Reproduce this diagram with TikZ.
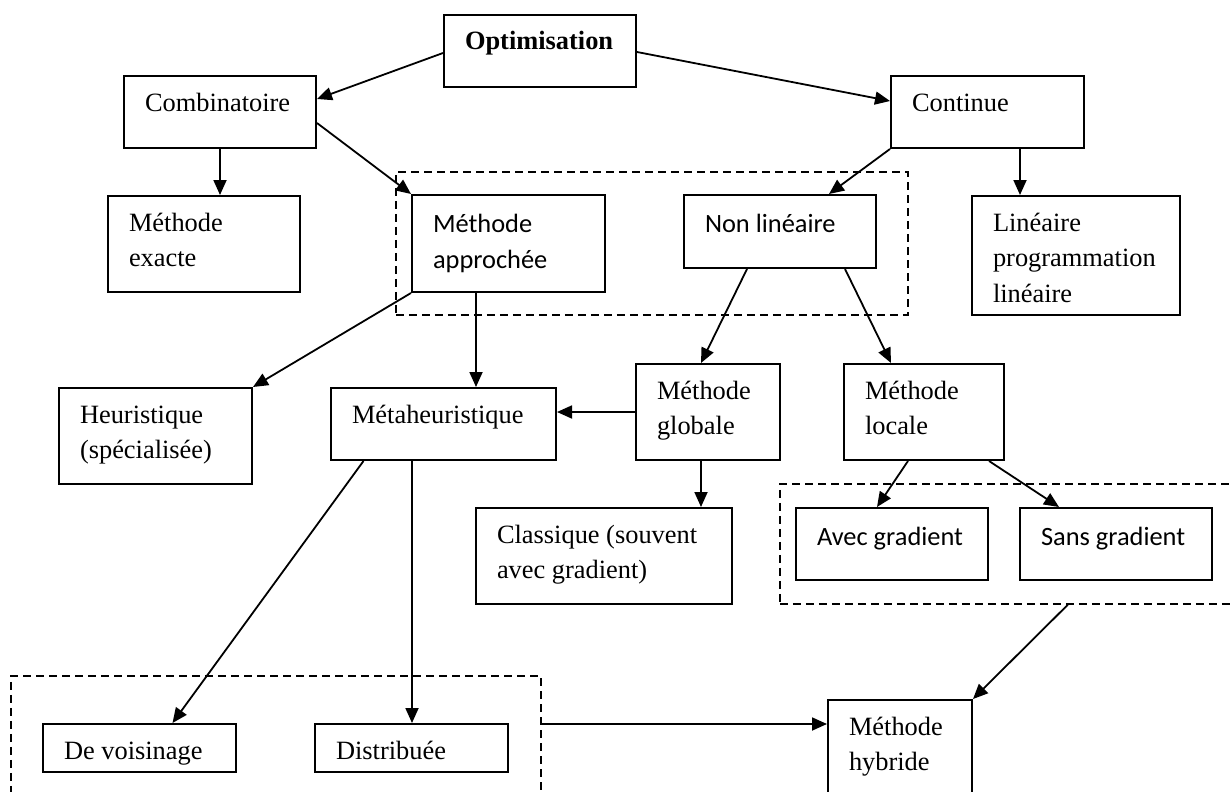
\documentclass[tikz,border=0pt]{standalone}
\usepackage{fontspec}
\setmainfont{Liberation Serif}
\newfontfamily\calibri{Carlito}
\usetikzlibrary{arrows.meta}

\newcommand{\boxfont}{\fontsize{26.4}{35.5}\selectfont}
\newcommand{\boxtop}{35pt}

\tikzset{
  box/.style 2 args={draw, line width=2pt, inner sep=0pt, anchor=north west,
    font=\boxfont,
    execute at begin node={\begin{minipage}[t][#2][t]{#1}\raggedright\leftskip=21pt\rule{0pt}{\boxtop}},
    execute at end node={\end{minipage}}},
  cbox/.style 2 args={box={#1}{#2}, font=\boxfont\calibri\renewcommand{\boxtop}{37.5pt}},
  group/.style={draw, dash pattern=on 8pt off 5pt, line width=1.7pt, inner sep=0pt, anchor=north west},
  link/.style={->, line width=1.8pt}
}

\begin{document}
\begin{tikzpicture}[x=1pt,y=-1pt,>={Triangle[length=15pt,width=13pt]}]
  \useasboundingbox (0,0) rectangle (1232,792);
  \clip (0,0) rectangle (1232,792);
  % dashed groups
  \node[group, minimum width=512pt, minimum height=143pt] (g1) at (395,171) {};
  \node[group, minimum width=470pt, minimum height=120pt] (g2) at (779,483) {};
  \node[group, minimum width=530pt, minimum height=130pt] (g3) at (10,675) {};
  % boxes
  \node[box={192pt}{72pt}] (opt) at (443,14) {\textbf{Optimisation}};
  \node[box={192pt}{72pt}] (comb) at (123,75) {Combinatoire};
  \node[box={193pt}{72pt}] (cont) at (890,75) {Continue};
  \node[box={192pt}{96pt}] (exact) at (107,195) {Méthode\\exacte};
  \node[cbox={193pt}{97pt}] (appr) at (411,194) {Méthode\\approchée};
  \node[cbox={192pt}{73pt}] (nonlin) at (683,194) {Non linéaire};
  \node[box={208pt}{119pt}] (lin) at (971,195) {Linéaire\\programmation\\linéaire};
  \node[box={193pt}{96pt}] (heur) at (58,387) {Heuristique\\(spécialisée)};
  \node[box={225pt}{72pt}] (meta) at (330,387) {Métaheuristique};
  \node[box={144pt}{96pt}] (glob) at (635,363) {Méthode\\globale};
  \node[box={160pt}{96pt}] (loc) at (843,363) {Méthode\\locale};
  \node[box={256pt}{96pt}] (class) at (475,507) {Classique (souvent\\avec gradient)};
  \node[cbox={192pt}{72pt}] (avec) at (795,507) {Avec gradient};
  \node[cbox={192pt}{72pt}] (sans) at (1019,507) {Sans gradient};
  \node[box={193pt}{48pt}] (voisin) at (42,723) {De voisinage};
  \node[box={193pt}{48pt}] (distr) at (314,723) {Distribuée};
  \node[box={144pt}{120pt}] (hybr) at (827,699) {Méthode\\hybride};
  % connector ends
  \coordinate (contlin) at ([xshift=32.5pt]cont.south);
  \coordinate (apprmeta) at ([xshift=-32.5pt]appr.south);
  \coordinate (globclass) at ([xshift=-7pt]glob.south);
  \coordinate (metadistr) at ([xshift=-31.5pt]meta.south);
  \coordinate (hybrin) at ([yshift=36pt]hybr.west);
  % arrows
  \draw[link] ([yshift=-2pt]opt.west) -- ([yshift=13pt]comb.east);
  \draw[link] ([yshift=-1pt]opt.east) -- ([yshift=11pt]cont.west);
  \draw[link] (comb.south) -- (comb.south |- exact.north);
  \draw[link] ([yshift=-11pt]comb.east) -- (appr.north west);
  \draw[link] (cont.south west) -- ([xshift=49pt]nonlin.north);
  \draw[link] (contlin) -- (contlin |- lin.north);
  \draw[link] (appr.south west) -- (heur.north east);
  \draw[link] (apprmeta) -- (apprmeta |- meta.north);
  \draw[link] ([xshift=-33pt]nonlin.south) -- ([xshift=-7pt]glob.north);
  \draw[link] ([xshift=65pt]nonlin.south) -- ([xshift=-33pt]loc.north);
  \draw[link] (glob.west) -- (glob.west -| meta.east);
  \draw[link] (globclass) -- (globclass |- class.north);
  \draw[link] ([xshift=-16pt]loc.south) -- ([xshift=-15pt]avec.north);
  \draw[link] ([xshift=65pt]loc.south) -- ([xshift=-57pt]sans.north);
  \draw[link] ([xshift=-80pt]meta.south) -- ([xshift=33pt]voisin.north);
  \draw[link] (metadistr) -- (metadistr |- distr.north);
  \draw[link] (hybrin -| g3.east) -- (hybrin);
  \draw[link] ([xshift=53pt]g2.south) -- (hybr.north east);
\end{tikzpicture}
\end{document}
